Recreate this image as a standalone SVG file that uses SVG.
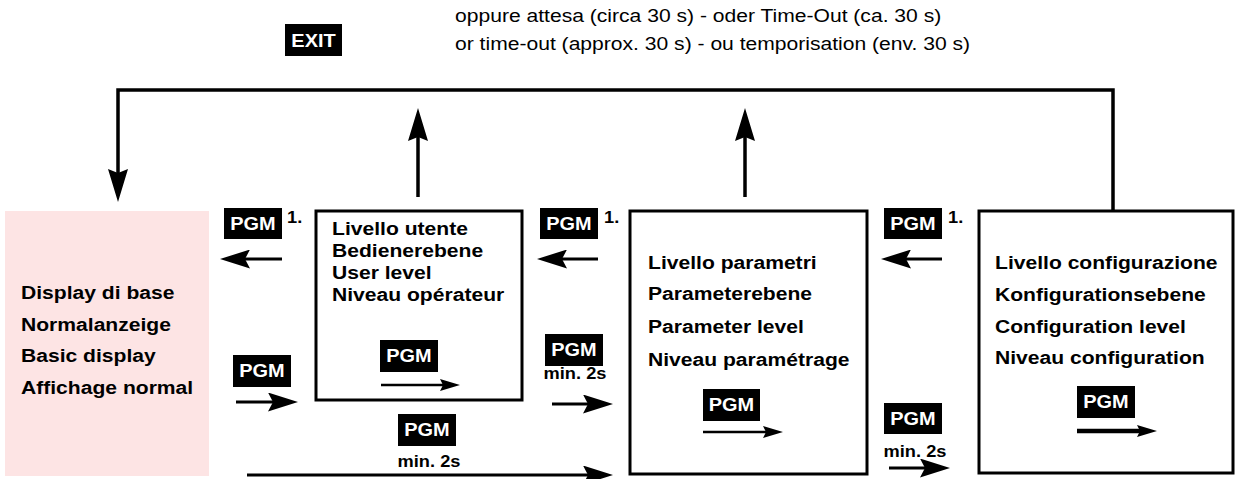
<svg xmlns="http://www.w3.org/2000/svg" width="1236" height="479" viewBox="0 0 1236 479">
<defs>
<style>
.t{font-family:"Liberation Sans",Arial,sans-serif;font-weight:bold;font-size:18.5px;fill:#000}
.n{font-family:"Liberation Sans",Arial,sans-serif;font-size:18.5px;fill:#000}
.k{font-family:"Liberation Sans",Arial,sans-serif;font-weight:bold;font-size:17.5px;fill:#fff;text-anchor:middle}
.s{font-family:"Liberation Sans",Arial,sans-serif;font-weight:bold;font-size:16px;fill:#000}
.c{text-anchor:middle}
.key{fill:#000}
.box{fill:#fff;stroke:#000;stroke-width:3}
.ln{stroke:#000;stroke-width:3.5;fill:none}
.ar{stroke:#000;stroke-width:3;fill:none}
.ar2{stroke:#000;stroke-width:2.5;fill:none}
.ar4{stroke:#000;stroke-width:4.5;fill:none}
</style>
<marker id="big" markerUnits="userSpaceOnUse" markerWidth="33" markerHeight="20" refX="4" refY="10" orient="auto"><path d="M0,0 L33,10 L0,20 L4,10 Z" fill="#000"/></marker>
<marker id="mid" markerUnits="userSpaceOnUse" markerWidth="30" markerHeight="19" refX="5" refY="9.5" orient="auto"><path d="M0,0 L30,9.5 L0,19 L5,9.5 Z" fill="#000"/></marker>
<marker id="sm" markerUnits="userSpaceOnUse" markerWidth="20" markerHeight="12" refX="3" refY="6" orient="auto"><path d="M0,0 L20,6 L0,12 L3,6 Z" fill="#000"/></marker>
</defs>

<g id="exit-note">
<rect class="key" x="285" y="24" width="57" height="32"/>
<text class="k" transform="matrix(1.14 0 0 1 313.5 46.5)">EXIT</text>
<text class="n" transform="matrix(1.14 0 0 1 455 22)">oppure attesa (circa 30 s) - oder Time-Out (ca. 30 s)</text>
<text class="n" transform="matrix(1.14 0 0 1 455 50)">or time-out (approx. 30 s) - ou temporisation (env. 30 s)</text>
</g>

<g id="basic-display">
<rect x="5" y="211" width="204" height="265" fill="#fde4e4"/>
<text class="t" transform="matrix(1.14 0 0 1 21 299)">Display di base</text>
<text class="t" transform="matrix(1.14 0 0 1 21 331)">Normalanzeige</text>
<text class="t" transform="matrix(1.14 0 0 1 21 362)">Basic display</text>
<text class="t" transform="matrix(1.14 0 0 1 21 394)">Affichage normal</text>
</g>

<g id="user-level">
<rect class="box" x="316" y="211" width="206" height="189"/>
<text class="t" transform="matrix(1.14 0 0 1 332 235)">Livello utente</text>
<text class="t" transform="matrix(1.14 0 0 1 332 257)">Bedienerebene</text>
<text class="t" transform="matrix(1.14 0 0 1 332 279)">User level</text>
<text class="t" transform="matrix(1.14 0 0 1 332 301)">Niveau opérateur</text>
<rect class="key" x="380" y="340" width="58" height="32"/>
<text class="k" transform="matrix(1.14 0 0 1 409 362)">PGM</text>
<line class="ar2" x1="381" y1="385" x2="443" y2="385" marker-end="url(#sm)"/>
</g>

<g id="parameter-level">
<rect class="box" x="630" y="211" width="237" height="263"/>
<text class="t" transform="matrix(1.14 0 0 1 648 269)">Livello parametri</text>
<text class="t" transform="matrix(1.14 0 0 1 648 300)">Parameterebene</text>
<text class="t" transform="matrix(1.14 0 0 1 648 333)">Parameter level</text>
<text class="t" transform="matrix(1.14 0 0 1 648 366)">Niveau paramétrage</text>
<rect class="key" x="703" y="389" width="57" height="32"/>
<text class="k" transform="matrix(1.14 0 0 1 731.5 411)">PGM</text>
<line class="ar2" x1="703" y1="432" x2="766" y2="432" marker-end="url(#sm)"/>
</g>

<g id="configuration-level">
<rect class="box" x="979" y="211" width="254" height="262"/>
<text class="t" transform="matrix(1.14 0 0 1 995 269)">Livello configurazione</text>
<text class="t" transform="matrix(1.14 0 0 1 995 301)">Konfigurationsebene</text>
<text class="t" transform="matrix(1.14 0 0 1 995 333)">Configuration level</text>
<text class="t" transform="matrix(1.14 0 0 1 995 364)">Niveau configuration</text>
<rect class="key" x="1077" y="386" width="58" height="32"/>
<text class="k" transform="matrix(1.14 0 0 1 1106 408)">PGM</text>
<line class="ar4" x1="1077" y1="431" x2="1140" y2="431" marker-end="url(#sm)"/>
</g>

<g id="key-labels">
<rect class="key" x="224" y="208" width="58" height="31"/>
<text class="k" transform="matrix(1.14 0 0 1 253 230)">PGM</text>
<text class="s" transform="matrix(1.14 0 0 1 287 223)">1.</text>
<rect class="key" x="540" y="208" width="58" height="31"/>
<text class="k" transform="matrix(1.14 0 0 1 569 230)">PGM</text>
<text class="s" transform="matrix(1.14 0 0 1 604 223)">1.</text>
<rect class="key" x="884" y="208" width="58" height="31"/>
<text class="k" transform="matrix(1.14 0 0 1 913 230)">PGM</text>
<text class="s" transform="matrix(1.14 0 0 1 948 223)">1.</text>
<rect class="key" x="233" y="355" width="58" height="32"/>
<text class="k" transform="matrix(1.14 0 0 1 262 377)">PGM</text>
<rect class="key" x="545" y="334" width="58" height="32"/>
<text class="k" transform="matrix(1.14 0 0 1 574 356)">PGM</text>
<text class="s c" transform="matrix(1.14 0 0 1 575 379)">min. 2s</text>
<rect class="key" x="398" y="414" width="58" height="32"/>
<text class="k" transform="matrix(1.14 0 0 1 427 436)">PGM</text>
<text class="s c" transform="matrix(1.14 0 0 1 429 467)">min. 2s</text>
<rect class="key" x="884" y="403" width="58" height="31"/>
<text class="k" transform="matrix(1.14 0 0 1 913 425)">PGM</text>
<text class="s c" transform="matrix(1.14 0 0 1 915 457)">min. 2s</text>
</g>

<g id="connectors">
<polyline class="ln" points="1113,211 1113,90 118,90 118,173" marker-end="url(#big)"/>
<line class="ln" x1="418" y1="197" x2="418" y2="137" marker-end="url(#big)"/>
<line class="ln" x1="745" y1="197" x2="745" y2="137" marker-end="url(#big)"/>
<line class="ar" x1="282" y1="259" x2="245" y2="259" marker-end="url(#mid)"/>
<line class="ar" x1="598" y1="259" x2="562" y2="259" marker-end="url(#mid)"/>
<line class="ar" x1="942" y1="259" x2="906" y2="259" marker-end="url(#mid)"/>
<line class="ar" x1="236" y1="402" x2="273" y2="402" marker-end="url(#mid)"/>
<line class="ar" x1="552" y1="404" x2="588" y2="404" marker-end="url(#mid)"/>
<line class="ar" x1="247" y1="475" x2="588" y2="475" marker-end="url(#mid)"/>
<line class="ar" x1="889" y1="468" x2="925" y2="468" marker-end="url(#mid)"/>
</g>
</svg>
